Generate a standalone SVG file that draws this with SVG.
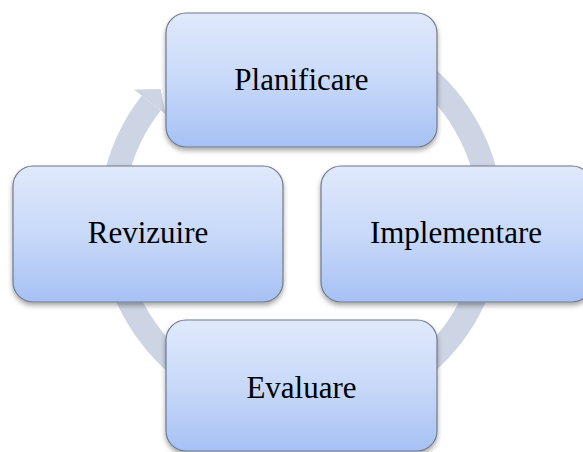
<svg xmlns="http://www.w3.org/2000/svg" width="583" height="452" viewBox="0 0 583 452">
  <defs>
    <linearGradient id="boxGrad" x1="0" y1="0" x2="0" y2="1">
      <stop offset="0" stop-color="#e0e9fb"/>
      <stop offset="0.5" stop-color="#c8d9f9"/>
      <stop offset="1" stop-color="#a6c1f4"/>
    </linearGradient>
    <filter id="shadow" x="-10%" y="-10%" width="120%" height="125%">
      <feDropShadow dx="0" dy="3" stdDeviation="2.5" flood-color="#000" flood-opacity="0.35"/>
    </filter>
  </defs>
  <style>
    .box { fill: url(#boxGrad); stroke: #6f7a8c; stroke-width: 1.2; filter: url(#shadow); }
    .label { font-family: "Liberation Serif", "Times New Roman", serif; font-size: 31px; fill: #000; text-anchor: middle; }
    .ring { fill: none; stroke: #cdd4e3; stroke-width: 24; }
    .head { fill: #cdd4e3; }
  </style>
  <rect width="583" height="452" fill="#ffffff"/>
  <g id="connectors">
    <path class="ring" d="M 334.0 32.9 A 190 190 0 1 1 151.3 103.0"/>
    <polygon class="head" points="133.9,89.5 160.6,89.1 165.5,114.1"/>
  </g>
  <g id="planificare">
    <rect class="box" x="166" y="13" width="271" height="134" rx="20" ry="20"/>
    <text class="label" x="301.5" y="90">Planificare</text>
  </g>
  <g id="implementare">
    <rect class="box" x="321" y="166" width="271" height="136" rx="20" ry="20"/>
    <text class="label" x="456" y="243">Implementare</text>
  </g>
  <g id="evaluare">
    <rect class="box" x="166" y="320" width="271" height="131" rx="20" ry="20"/>
    <text class="label" x="301.5" y="398">Evaluare</text>
  </g>
  <g id="revizuire">
    <rect class="box" x="13" y="166" width="270" height="136" rx="20" ry="20"/>
    <text class="label" x="148" y="243">Revizuire</text>
  </g>
</svg>
